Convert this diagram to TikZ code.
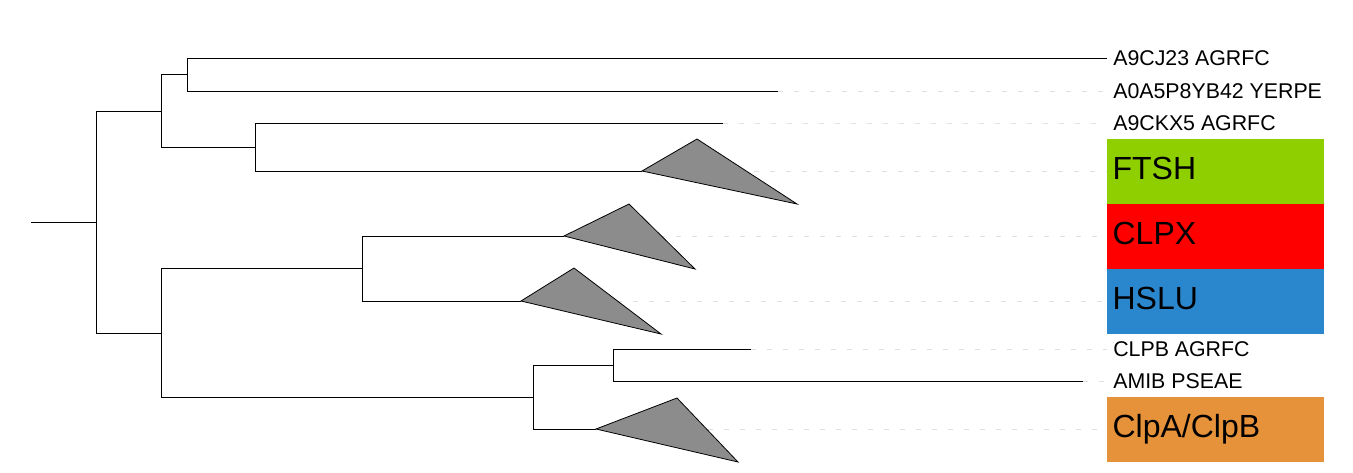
\documentclass[tikz,border=0pt]{standalone}
\usepackage{fontspec}
\setmainfont{Liberation Sans}
\usetikzlibrary{positioning}
\definecolor{ftshgreen}{RGB}{143,207,0}
\definecolor{clpxred}{RGB}{255,0,0}
\definecolor{hslublue}{RGB}{42,135,205}
\definecolor{clpaorange}{RGB}{230,146,58}
\tikzset{
  branch/.style={line width=0.75pt, black},
  % light dashed guides from tips to the labels
  guide/.style={line width=0.75pt, black!12, dash pattern=on 3.75pt off 8.25pt},
  clade/.style={draw=black, line width=0.6pt, fill=gray, fill opacity=0.9},
  leaflabel/.style={anchor=west, inner xsep=4.5pt, inner ysep=0pt,
    font=\fontsize{16}{16}\selectfont, text height=11.5pt, text depth=0pt},
  cladebox/.style={anchor=west, inner xsep=4pt, inner ysep=0pt,
    minimum height=48.75pt, text width=154.75pt, align=left,
    font=\fontsize{24}{24}\selectfont, text height=17.2pt, text depth=4pt},
}
\begin{document}
\begin{tikzpicture}[x=0.75pt, y=-0.75pt]
  \useasboundingbox (0,0) rectangle (1353,472);
  % inner nodes
  \coordinate (root) at (31,222);
  \coordinate (n0) at (96,222);
  \coordinate (n1) at (161,111);
  \coordinate (n2) at (187,74);
  \coordinate (n3) at (255,147);
  \coordinate (n4) at (161,333);
  \coordinate (n5) at (362,268.5);
  \coordinate (n6) at (533,397);
  \coordinate (n7) at (613,365);
  % tips
  \coordinate (tipyb42) at (778,91);
  \coordinate (tipckx5) at (723,123);
  \coordinate (tipclpb) at (751,349);
  \coordinate (tipamib) at (1083,381);
  % collapsed clades: apex, top, bottom
  \coordinate (apexftsh) at (642,171);
  \coordinate (topftsh) at (697,139);
  \coordinate (botftsh) at (797,204);
  \coordinate (apexclpx) at (564,236);
  \coordinate (topclpx) at (629,204);
  \coordinate (botclpx) at (695,269);
  \coordinate (apexhslu) at (521,301);
  \coordinate (tophslu) at (574,268);
  \coordinate (bothslu) at (661,334);
  \coordinate (apexclpa) at (596,429);
  \coordinate (topclpa) at (677,398);
  \coordinate (botclpa) at (738,462);
  % labels
  \node[leaflabel] (cj23) at (1107,58) {A9CJ23 AGRFC};
  \node[leaflabel] (yb42) at (1107,91) {A0A5P8YB42 YERPE};
  \node[leaflabel] (ckx5) at (1107,123) {A9CKX5 AGRFC};
  \node[leaflabel] (clpb) at (1107,349) {CLPB AGRFC};
  \node[leaflabel] (amib) at (1107,381) {AMIB PSEAE};
  \node[cladebox, fill=ftshgreen] (ftsh) at (1107,171) {FTSH};
  \node[cladebox, fill=clpxred] (clpx) at (1107,236) {CLPX};
  \node[cladebox, fill=hslublue] (hslu) at (1107,301) {HSLU};
  \node[cladebox, fill=clpaorange] (clpa) at (1107,429) {ClpA/ClpB};
  % guides
  \foreach \a/\b in {tipyb42/yb42, tipckx5/ckx5, tipclpb/clpb, tipamib/amib,
      apexftsh/ftsh, apexclpx/clpx, apexhslu/hslu, apexclpa/clpa}
    \draw[guide] (\a) -- (\b.west);
  % triangles
  \foreach \c in {ftsh, clpx, hslu, clpa}
    \draw[clade] (apex\c) -- (top\c) -- (bot\c) -- cycle;
  % branches
  \draw[branch] (root) -- (n0);
  \draw[branch] (n0) |- (n1);
  \draw[branch] (n0) |- (n4);
  \draw[branch] (n1) |- (n2);
  \draw[branch] (n1) |- (n3);
  \draw[branch] (n2) |- (cj23.west);
  \draw[branch] (n2) |- (tipyb42);
  \draw[branch] (n3) |- (tipckx5);
  \draw[branch] (n3) |- (apexftsh);
  \draw[branch] (n4) |- (n5);
  \draw[branch] (n4) |- (n6);
  \draw[branch] (n5) |- (apexclpx);
  \draw[branch] (n5) |- (apexhslu);
  \draw[branch] (n6) |- (n7);
  \draw[branch] (n6) |- (apexclpa);
  \draw[branch] (n7) |- (tipclpb);
  \draw[branch] (n7) |- (tipamib);
\end{tikzpicture}
\end{document}
